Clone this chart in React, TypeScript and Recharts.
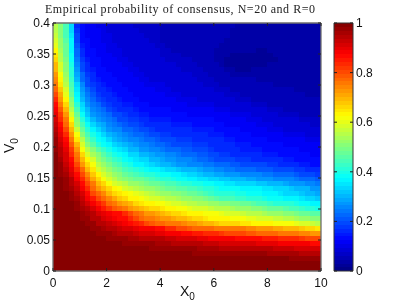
import { ScatterChart, Scatter, XAxis, YAxis } from 'recharts';

const X_TICKS = [0, 2, 4, 6, 8, 10];
const Y_TICKS = [0, 0.05, 0.1, 0.15, 0.2, 0.25, 0.3, 0.35, 0.4];
const BAR_TICKS = [0, 0.2, 0.4, 0.6, 0.8, 1];

// percent of consensus, top row (V0=0.4) to bottom row (V0=0)
const PROB_ROWS = [
  [56,50,45,33,17,13,12,11,10,10,9,9,8,8,8,7,7,7,7,7,6,6,6,5,5,5,5,5,5,5,5,5,5,5,4,4,4,4,4,4,4,4,4,4,4,4,4,4,4,4],
  [56,50,45,34,18,14,12,11,11,10,9,9,8,8,8,8,7,7,7,7,6,6,6,6,5,5,5,5,5,5,5,5,5,4,4,4,4,4,4,4,4,4,4,4,4,4,4,4,4,4],
  [57,51,45,35,19,14,12,12,11,10,10,9,9,8,8,8,8,7,7,7,6,6,6,6,6,5,5,5,5,5,5,5,5,4,4,4,4,4,4,4,4,4,4,4,4,4,4,4,4,4],
  [58,52,46,36,20,14,13,12,11,10,10,9,9,9,8,8,8,8,7,7,6,6,6,6,6,6,5,5,5,5,5,5,4,4,4,4,4,4,4,4,4,4,4,4,4,4,4,4,4,4],
  [60,53,47,36,21,15,13,12,11,11,10,10,9,9,8,8,8,8,8,7,7,6,6,6,6,6,6,5,5,5,5,4,4,4,4,4,4,4,4,4,4,4,4,4,4,4,4,4,4,4],
  [63,54,47,37,22,16,14,13,12,11,10,10,10,9,9,8,8,8,8,8,7,7,6,6,6,6,6,6,5,5,4,4,4,4,4,4,4,4,3,3,4,4,4,4,4,4,4,4,4,4],
  [65,55,48,38,23,17,14,13,12,12,11,10,10,9,9,9,8,8,8,8,7,7,7,7,6,6,6,6,5,5,4,4,4,3,3,3,3,3,3,3,3,4,4,4,4,4,4,4,4,4],
  [67,56,49,39,24,18,15,14,13,12,11,11,10,10,9,9,9,8,8,8,8,7,7,7,7,7,6,6,5,5,4,4,3,3,3,3,3,3,3,3,3,3,4,4,4,4,4,4,4,4],
  [69,58,50,40,25,19,16,14,13,12,12,11,11,10,10,9,9,9,8,8,8,8,8,7,7,7,7,6,6,5,5,4,3,3,3,3,3,3,3,3,4,4,4,4,4,4,4,4,4,4],
  [70,59,51,41,27,20,17,15,14,13,12,12,11,11,10,10,9,9,9,8,8,8,8,8,7,7,7,7,6,6,5,5,4,4,3,3,3,4,4,4,4,4,4,4,4,4,4,4,4,4],
  [72,61,53,42,29,22,18,16,14,14,13,12,11,11,11,10,10,9,9,9,9,8,8,8,8,8,7,7,7,6,6,5,5,4,4,4,4,4,4,4,4,4,4,4,4,4,4,4,4,4],
  [74,63,54,43,31,23,19,17,15,14,13,13,12,11,11,11,10,10,9,9,9,9,9,8,8,8,8,7,7,7,6,6,5,5,5,5,5,5,4,4,4,4,4,4,4,4,4,4,4,4],
  [76,65,56,45,33,25,20,18,16,15,14,13,13,12,12,11,11,10,10,10,10,9,9,9,8,8,8,8,7,7,7,6,6,6,6,5,5,5,5,5,5,4,4,4,4,4,4,4,4,4],
  [78,68,58,46,35,27,22,19,17,16,15,14,13,13,12,12,11,11,11,10,10,10,9,9,9,9,8,8,8,8,7,7,7,6,6,6,6,5,5,5,5,5,5,5,5,4,4,4,4,4],
  [81,71,60,48,37,29,24,21,18,17,16,15,14,13,13,12,12,11,11,11,11,10,10,10,9,9,9,9,8,8,8,8,7,7,7,6,6,6,6,5,5,5,5,5,5,5,5,4,4,4],
  [84,73,63,50,39,31,26,22,20,18,17,16,15,14,14,13,12,12,12,11,11,11,11,10,10,10,10,9,9,9,9,8,8,8,7,7,7,6,6,6,6,6,6,5,5,5,5,5,5,5],
  [86,76,66,53,41,33,28,24,22,20,18,17,16,15,15,14,13,13,12,12,12,11,11,11,11,10,10,10,10,10,9,9,9,9,8,8,8,7,7,7,6,6,6,6,6,5,5,5,5,5],
  [89,79,69,56,44,35,30,26,24,22,20,18,17,16,16,15,14,14,13,13,13,13,12,12,12,11,11,11,11,11,10,10,10,9,9,9,9,8,8,8,7,7,7,6,6,6,6,6,6,6],
  [90,82,72,59,47,38,32,28,26,24,22,20,19,18,17,16,15,15,14,14,14,14,13,13,13,12,12,12,12,12,11,11,11,10,10,10,10,9,9,8,8,8,7,7,7,7,6,6,6,6],
  [92,84,75,63,50,41,35,31,28,26,24,22,20,19,18,18,17,16,15,15,15,15,14,14,14,14,13,13,13,13,12,12,12,11,11,11,10,10,10,9,9,9,8,8,8,8,7,7,7,7],
  [93,86,78,66,53,44,38,34,31,29,26,24,23,21,20,19,18,17,17,16,16,16,15,15,15,15,14,14,14,14,13,13,12,12,12,11,11,11,10,10,10,9,9,9,8,8,8,8,7,7],
  [95,88,81,70,57,47,41,37,33,31,28,26,25,23,22,21,20,19,18,17,17,17,16,16,16,16,15,15,15,15,14,14,13,13,13,12,12,11,11,11,10,10,10,9,9,9,9,8,8,8],
  [96,90,84,73,61,51,44,40,36,33,31,29,27,25,24,23,22,21,20,19,18,18,17,17,17,17,16,16,16,15,15,15,14,14,14,13,13,12,12,12,11,11,11,10,10,10,10,9,9,9],
  [97,91,86,76,65,55,48,43,39,36,34,31,29,27,26,25,24,23,22,21,20,19,19,18,18,18,17,17,17,16,16,16,15,15,14,14,14,13,13,13,12,12,12,11,11,11,11,10,10,10],
  [98,93,88,79,69,58,51,46,42,39,37,34,32,30,29,27,26,25,24,23,22,21,20,20,19,19,18,18,18,17,17,16,16,16,15,15,15,14,14,14,13,13,13,12,12,12,11,11,11,11],
  [98,94,90,82,72,62,55,50,46,43,40,37,35,33,31,30,28,27,26,25,24,23,22,22,21,21,20,19,19,18,17,17,16,16,16,15,15,15,15,14,14,14,14,13,13,13,12,12,12,12],
  [99,95,91,84,75,66,59,54,50,46,43,40,38,36,34,33,31,30,29,28,27,26,25,24,23,23,22,21,21,20,19,18,18,17,17,17,16,16,16,15,15,15,14,14,14,13,13,13,12,12],
  [99,96,92,86,78,70,63,58,53,49,46,43,41,39,37,35,34,33,31,30,29,28,27,26,25,25,24,23,22,21,20,20,19,19,18,18,18,17,17,17,16,16,16,15,15,14,14,14,13,13],
  [99,97,93,88,81,73,67,61,56,53,49,46,44,42,40,37,36,35,33,32,31,30,29,28,27,26,25,25,24,24,23,22,22,21,21,20,20,20,19,19,18,18,17,17,16,16,15,15,14,14],
  [100,98,95,90,84,77,70,65,59,55,52,49,47,45,43,41,40,38,37,36,35,34,33,32,31,30,30,29,28,27,26,25,24,24,23,23,22,22,21,21,21,20,20,19,19,18,18,17,16,16],
  [100,98,96,92,87,80,74,68,63,59,55,52,50,48,46,45,43,42,41,40,39,38,37,36,35,34,33,32,31,30,29,29,28,27,27,26,26,25,25,24,24,23,23,22,22,21,20,20,19,18],
  [100,99,97,94,89,83,77,71,66,62,59,56,53,51,49,48,47,46,44,43,42,41,40,39,38,37,36,35,35,34,33,32,32,31,30,30,29,29,28,28,27,26,26,25,25,24,23,22,22,21],
  [100,99,98,95,91,86,80,75,70,66,62,59,57,55,53,52,50,49,48,47,46,45,44,43,42,41,40,40,39,38,36,36,35,35,34,34,33,33,32,32,31,30,30,29,28,28,27,26,25,24],
  [100,100,98,96,93,88,83,78,73,70,66,63,61,59,57,56,54,53,52,51,49,48,47,46,46,45,44,43,42,41,40,39,39,38,38,37,37,36,36,35,35,34,33,33,32,31,31,30,28,27],
  [100,100,99,97,95,91,86,81,77,74,70,67,65,63,61,60,58,57,56,54,53,52,51,50,49,48,47,46,45,43,42,42,41,41,40,40,39,39,38,37,36,36,35,34,34,33,32,31,30,29],
  [100,100,99,98,96,93,89,85,81,78,74,71,68,66,64,63,61,60,59,58,57,56,55,54,53,52,51,50,49,47,46,45,45,44,43,43,42,42,41,40,39,38,38,37,37,36,35,34,33,32],
  [100,100,100,99,97,95,92,88,85,82,78,75,73,71,69,67,65,64,63,62,61,60,59,58,57,56,55,54,54,53,52,51,50,49,49,48,47,46,45,44,43,42,42,41,41,40,39,38,37,37],
  [100,100,100,99,98,96,94,91,88,85,82,79,77,75,73,71,70,68,67,66,65,64,63,62,61,60,59,59,58,57,56,55,55,54,53,52,52,51,50,49,48,47,47,46,45,44,43,42,41,40],
  [100,100,100,100,99,98,96,94,92,90,89,87,86,83,80,77,75,73,72,71,69,68,67,66,65,64,63,63,62,61,61,60,59,58,58,57,56,55,55,54,53,52,52,51,50,49,48,47,46,46],
  [100,100,100,100,99,98,97,95,94,92,90,89,87,86,83,80,78,76,75,74,73,72,71,70,69,68,67,66,65,64,64,63,63,62,62,61,60,60,59,58,58,57,57,56,55,54,53,52,51,50],
  [100,100,100,100,100,99,98,97,95,94,93,91,90,88,87,85,83,81,79,78,77,76,76,75,74,73,72,71,70,69,68,67,67,66,66,65,65,64,64,63,63,62,62,61,61,60,59,58,57,56],
  [100,100,100,100,100,100,99,98,97,96,95,94,93,92,91,90,89,88,88,87,86,84,83,81,80,79,78,78,77,77,76,76,75,75,75,75,74,74,73,73,72,71,71,70,69,69,68,67,66,65],
  [100,100,100,100,100,100,100,99,98,98,97,96,95,95,94,93,92,91,91,90,90,89,88,88,87,86,85,85,84,83,83,82,81,81,80,80,79,79,78,78,78,77,76,76,75,75,74,74,73,72],
  [100,100,100,100,100,100,100,100,99,99,98,98,97,97,96,96,95,95,94,94,94,93,93,92,92,91,91,90,90,89,89,88,88,88,87,87,87,86,86,85,85,85,84,84,83,83,82,81,81,80],
  [100,100,100,100,100,100,100,100,100,100,99,99,99,98,98,98,97,97,97,96,96,96,95,95,95,94,94,94,93,93,93,92,92,92,91,91,91,91,90,90,90,90,89,89,89,88,88,88,87,87],
  [100,100,100,100,100,100,100,100,100,100,100,100,100,100,99,99,99,99,98,98,98,98,98,97,97,97,97,96,96,96,96,95,95,95,95,95,94,94,94,94,94,93,93,93,93,92,92,92,92,91],
  [100,100,100,100,100,100,100,100,100,100,100,100,100,100,100,100,100,100,100,100,99,99,99,99,99,99,98,98,98,98,98,98,97,97,97,97,97,97,97,97,96,96,96,96,96,96,95,95,95,95],
  [100,100,100,100,100,100,100,100,100,100,100,100,100,100,100,100,100,100,100,100,100,100,100,100,100,100,100,100,100,100,99,99,99,99,99,99,99,99,99,99,99,99,99,99,98,98,98,98,98,98],
  [100,100,100,100,100,100,100,100,100,100,100,100,100,100,100,100,100,100,100,100,100,100,100,100,100,100,100,100,100,100,100,100,100,100,100,100,100,100,100,100,100,100,100,100,100,100,100,100,100,100],
  [100,100,100,100,100,100,100,100,100,100,100,100,100,100,100,100,100,100,100,100,100,100,100,100,100,100,100,100,100,100,100,100,100,100,100,100,100,100,100,100,100,100,100,100,100,100,100,100,100,100],
];

const X_STEP = 0.2;
const Y_STEP = 0.008;
const JET_LEVELS = 64;

const cells = PROB_ROWS.flatMap((row, r) =>
  row.map((p, c) => ({ x: (c + 0.5) * X_STEP, y: (PROB_ROWS.length - r - 0.5) * Y_STEP, p: p / 100 })),
);
const barCells = Array.from({ length: JET_LEVELS }, (_, i) => ({ x: 0.5, y: (i + 0.5) / JET_LEVELS, p: (i + 0.5) / JET_LEVELS }));

const chan = (v: number) => Math.round(Math.max(0, Math.min(1, v)) * 255);
function jet(p: number) {
  const t = (Math.min(JET_LEVELS - 1, Math.floor(p * JET_LEVELS)) + 0.5) / JET_LEVELS;
  return `rgb(${chan(1.5 - Math.abs(4 * t - 3))},${chan(1.5 - Math.abs(4 * t - 2))},${chan(1.5 - Math.abs(4 * t - 1))})`;
}

const FONT = '"Liberation Sans", Arial, sans-serif';
const BOX = '#6e6e6e';
const overlay = { position: 'absolute', left: 0, top: 0 } as const;

function HeatCell(props: any) {
  const { cx, cy, payload } = props;
  const w = 268 / 50 + 0.5;
  const h = 248 / 50 + 0.5;
  return <rect x={cx - w / 2} y={cy - h / 2} width={w} height={h} fill={jet(payload.p)} shapeRendering="crispEdges" />;
}

function BarCell(props: any) {
  const { cx, cy, payload } = props;
  return <rect x={cx - 9.5} y={cy - 2.2} width={19} height={4.4} fill={jet(payload.p)} shapeRendering="crispEdges" />;
}

function NoMark() {
  return null;
}

function BottomTick({ x, y, payload }: any) {
  return (
    <g>
      <line x1={x} x2={x} y1={y} y2={y - 3} stroke="#222" />
      <text x={x} y={y + 16} textAnchor="middle" fontSize={12} fontFamily={FONT} fill="#111">{payload.value}</text>
    </g>
  );
}
function TopTick({ x, y }: any) {
  return <line x1={x} x2={x} y1={y} y2={y + 3} stroke="#222" />;
}
function LeftTick({ x, y, payload }: any) {
  return (
    <g>
      <line x1={x} x2={x + 3} y1={y} y2={y} stroke="#222" />
      <text x={x - 3} y={y + 4} textAnchor="end" fontSize={12} fontFamily={FONT} fill="#111">{payload.value}</text>
    </g>
  );
}
function RightTick({ x, y }: any) {
  return <line x1={x} x2={x - 3} y1={y} y2={y} stroke="#222" />;
}
function BarLeftTick({ x, y }: any) {
  return <line x1={x} x2={x + 3} y1={y} y2={y} stroke="#222" />;
}
function BarRightTick({ x, y, payload }: any) {
  return (
    <g>
      <line x1={x} x2={x - 3} y1={y} y2={y} stroke="#222" />
      <text x={x + 3} y={y + 4} textAnchor="start" fontSize={12} fontFamily={FONT} fill="#111">{payload.value}</text>
    </g>
  );
}

const boxLine = { stroke: BOX, strokeWidth: 1.3 };
const barLine = { stroke: '#333', strokeWidth: 1 };

export default function App() {
  return (
    <div style={{ position: 'absolute', left: 0, top: 0, width: 407, height: 306, background: '#fff', filter: 'blur(0.3px)' }}>
      {/* heat cells underneath, axes in a second chart above so the ticks stay visible */}
      <div style={overlay}>
        <ScatterChart width={407} height={306} margin={{ top: 23, right: 86, bottom: 35, left: 53 }}>
          <XAxis type="number" dataKey="x" domain={[0, 10]} hide />
          <YAxis type="number" dataKey="y" domain={[0, 0.4]} hide />
          <Scatter data={cells} shape={<HeatCell />} isAnimationActive={false} />
        </ScatterChart>
      </div>
      <div style={overlay}>
        <ScatterChart width={407} height={306} margin={{ top: 22, right: 85, bottom: 0, left: 0 }}>
          <XAxis xAxisId="b" type="number" dataKey="x" domain={[0, 10]} ticks={X_TICKS} height={35} tickSize={0} tickMargin={0} tick={<BottomTick />} tickLine={false} axisLine={boxLine} interval={0} />
          <XAxis xAxisId="t" orientation="top" type="number" dataKey="x" domain={[0, 10]} ticks={X_TICKS} height={1} tickSize={0} tickMargin={0} tick={<TopTick />} tickLine={false} axisLine={boxLine} interval={0} />
          <YAxis yAxisId="l" type="number" dataKey="y" domain={[0, 0.4]} ticks={Y_TICKS} width={53} tickSize={0} tickMargin={0} tick={<LeftTick />} tickLine={false} axisLine={boxLine} interval={0} />
          <YAxis yAxisId="r" orientation="right" type="number" dataKey="y" domain={[0, 0.4]} ticks={Y_TICKS} width={1} tickSize={0} tickMargin={0} tick={<RightTick />} tickLine={false} axisLine={boxLine} interval={0} />
          <Scatter xAxisId="b" yAxisId="l" data={cells.slice(0, 1)} shape={<NoMark />} isAnimationActive={false} />
          <Scatter xAxisId="t" yAxisId="r" data={cells.slice(0, 1)} shape={<NoMark />} isAnimationActive={false} />
          <text x={45} y={13} fontSize={12} fontFamily='"Liberation Serif", serif' fill="#222" textLength={270} lengthAdjust="spacing">
            Empirical probability of consensus, N=20 and R=0
          </text>
          <text x={180} y={296} fontSize={14} fontFamily={FONT} fill="#111">
            X<tspan dy={4} fontSize={10}>0</tspan>
          </text>
          <text transform="translate(14,153) rotate(-90)" fontSize={14} fontFamily={FONT} fill="#111">
            V<tspan dy={4} fontSize={10}>0</tspan>
          </text>
        </ScatterChart>
      </div>
      <div style={{ position: 'absolute', left: 321, top: 0 }}>
        <ScatterChart width={86} height={306} margin={{ top: 23, right: 54, bottom: 35, left: 13 }}>
          <XAxis type="number" dataKey="x" domain={[0, 1]} hide />
          <YAxis type="number" dataKey="y" domain={[0, 1]} hide />
          <Scatter data={barCells} shape={<BarCell />} isAnimationActive={false} />
        </ScatterChart>
      </div>
      <div style={{ position: 'absolute', left: 321, top: 0 }}>
        <ScatterChart width={86} height={306} margin={{ top: 22, right: 0, bottom: 34, left: 12 }}>
          <XAxis xAxisId="b" type="number" dataKey="x" domain={[0, 1]} height={1} tick={false} tickLine={false} axisLine={barLine} />
          <XAxis xAxisId="t" orientation="top" type="number" dataKey="x" domain={[0, 1]} height={1} tick={false} tickLine={false} axisLine={barLine} />
          <YAxis yAxisId="l" type="number" dataKey="y" domain={[0, 1]} ticks={BAR_TICKS} width={1} tickSize={0} tickMargin={0} tick={<BarLeftTick />} tickLine={false} axisLine={barLine} interval={0} />
          <YAxis yAxisId="r" orientation="right" type="number" dataKey="y" domain={[0, 1]} ticks={BAR_TICKS} width={54} tickSize={0} tickMargin={0} tick={<BarRightTick />} tickLine={false} axisLine={barLine} interval={0} />
          <Scatter xAxisId="b" yAxisId="l" data={barCells.slice(0, 1)} shape={<NoMark />} isAnimationActive={false} />
          <Scatter xAxisId="t" yAxisId="r" data={barCells.slice(0, 1)} shape={<NoMark />} isAnimationActive={false} />
        </ScatterChart>
      </div>
    </div>
  );
}
